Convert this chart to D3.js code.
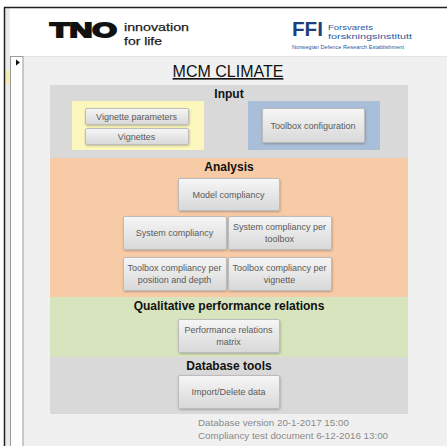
<!DOCTYPE html>
<html>
<head>
<meta charset="utf-8">
<script src="https://cdn.jsdelivr.net/npm/d3@7"></script>
<style>
  body { margin: 0; background: #fff; }
  svg { display: block; font-family: "Liberation Sans", Arial, sans-serif; }
</style>
</head>
<body>
<svg id="form"></svg>
<script>
// form content
const title = "MCM CLIMATE";
const tnoTagline = ["innovation", "for life"];
const ffiName = ["Forsvarets", "forskningsinstitutt"];
const ffiEnglish = "Norwegian Defence Research Establishment";
const sectionNames = ["Input", "Analysis", "Qualitative performance relations", "Database tools"];
const inputButtons = ["Vignette parameters", "Vignettes"];
const configButtons = ["Toolbox configuration"];
const analysisButtons = [
  ["Model compliancy"],
  ["System compliancy"], ["System compliancy per", "toolbox"],
  ["Toolbox compliancy per", "position and depth"], ["Toolbox compliancy per", "vignette"]
];
const relationButtons = [["Performance relations", "matrix"]];
const dbButtons = [["Import/Delete data"]];
const footerLines = ["Database version 20-1-2017 15:00", "Compliancy test document 6-12-2016 13:00"];

const W = 447, H = 446;
const svg = d3.select("#form").attr("width", W).attr("height", H);

const defs = svg.append("defs");
const grad = defs.append("linearGradient").attr("id", "btn").attr("x1", 0).attr("y1", 0).attr("x2", 0).attr("y2", 1);
grad.append("stop").attr("offset", "0%").attr("stop-color", "#f6f6f6");
grad.append("stop").attr("offset", "100%").attr("stop-color", "#d8d8d8");
const shadow = defs.append("filter").attr("id", "shadow").attr("x", "-10%").attr("y", "-10%").attr("width", "130%").attr("height", "140%");
shadow.append("feDropShadow").attr("dx", 0.5).attr("dy", 1).attr("stdDeviation", 0.8).attr("flood-color", "#000").attr("flood-opacity", 0.25);

// window frame
svg.append("rect").attr("x", 4).attr("y", 7).attr("width", W - 4).attr("height", H - 7).attr("fill", "#fff");
svg.append("rect").attr("x", 5).attr("y", 8).attr("width", 5).attr("height", H - 8).attr("fill", "#ebebeb");
svg.append("rect").attr("x", 5).attr("y", 70).attr("width", 4).attr("height", 14).attr("fill", "#f3eeb0");
svg.append("line").attr("x1", 4).attr("x2", W).attr("y1", 7.5).attr("y2", 7.5).attr("stroke", "#222").attr("stroke-width", 1.5);
svg.append("line").attr("x1", 4.5).attr("x2", 4.5).attr("y1", 7).attr("y2", H).attr("stroke", "#222").attr("stroke-width", 1.5);

// body
svg.append("rect").attr("x", 23).attr("y", 56).attr("width", W - 23).attr("height", H - 56).attr("fill", "#f0f0f0");
svg.append("line").attr("x1", 10).attr("x2", W).attr("y1", 56.5).attr("y2", 56.5).attr("stroke", "#e4e4e4");
// record selector
svg.append("rect").attr("x", 10.5).attr("y", 56.5).attr("width", 12.5).attr("height", H).attr("fill", "#fff").attr("stroke", "#9a9a9a").attr("stroke-width", 1);
svg.append("path").attr("d", "M16,59.5 L20,62.5 L16,65.5 Z").attr("fill", "#111");

// logos
const tno = svg.append("g");
tno.append("text").attr("x", 50).attr("y", 37).attr("font-size", 21).attr("font-weight", 900)
  .attr("textLength", 67).attr("lengthAdjust", "spacingAndGlyphs")
  .attr("stroke", "#111").attr("stroke-width", 1.8).attr("fill", "#111").text("TNO");
const tagW = [65, 38];
tnoTagline.forEach((t, i) => {
  tno.append("text").attr("x", 124).attr("y", 31 + i * 13.6).attr("font-size", 11.8).attr("fill", "#1a1a1a")
    .attr("stroke", "#1a1a1a").attr("stroke-width", 0.25)
    .attr("textLength", tagW[i]).attr("lengthAdjust", "spacingAndGlyphs").text(t);
});

const ffi = svg.append("g");
ffi.append("text").attr("x", 292).attr("y", 36).attr("font-size", 20).attr("font-weight", "bold")
  .attr("fill", "#1d3f7e").attr("textLength", 31).attr("lengthAdjust", "spacingAndGlyphs").text("FFI");
const ffiW = [45, 84];
ffiName.forEach((t, i) => {
  ffi.append("text").attr("x", 328).attr("y", 29.5 + i * 9.4).attr("font-size", 8.1).attr("fill", "#2c5aa0")
    .attr("textLength", ffiW[i]).attr("lengthAdjust", "spacingAndGlyphs").text(t);
});
ffi.append("text").attr("x", 292).attr("y", 48.5).attr("font-size", 4.8).attr("fill", "#2c5aa0")
  .attr("textLength", 112).attr("lengthAdjust", "spacingAndGlyphs").text(ffiEnglish);

// title
svg.append("text").attr("x", 228).attr("y", 77).attr("text-anchor", "middle").attr("font-size", 16)
  .attr("fill", "#111").attr("text-decoration", "underline").text(title);

// sections
const X0 = 50, X1 = 408;
const sectionTops = [85, 158, 297, 357, 414];
const sectionFill = ["#d9d9d9", "#f8cba7", "#d7e4bd", "#d9d9d9"];
sectionNames.forEach((name, i) => {
  svg.append("rect").attr("x", X0).attr("y", sectionTops[i]).attr("width", X1 - X0)
    .attr("height", sectionTops[i + 1] - sectionTops[i]).attr("fill", sectionFill[i]);
  svg.append("text").attr("x", 229).attr("y", sectionTops[i] + 12.5).attr("text-anchor", "middle")
    .attr("font-size", 12).attr("font-weight", "bold").attr("fill", "#111").text(name);
});

// input sub panels
svg.append("rect").attr("x", 72).attr("y", 101).attr("width", 132).attr("height", 49).attr("fill", "#fcf8bd");
svg.append("rect").attr("x", 248).attr("y", 101).attr("width", 132).attr("height", 49).attr("fill", "#a9bed9");

function button(x, y, w, h, lines) {
  const g = svg.append("g");
  g.append("rect").attr("x", x + 0.5).attr("y", y + 0.5).attr("width", w).attr("height", h).attr("rx", 1.5)
    .attr("fill", "url(#btn)").attr("stroke", "#bcbcbc").attr("filter", "url(#shadow)");
  const cy = y + h / 2 + 3.5 - (lines.length - 1) * 6;
  g.append("text").attr("font-size", 9).attr("fill", "#5a5a5a").attr("text-anchor", "middle")
    .selectAll("tspan").data(lines).join("tspan")
    .attr("x", x + w / 2).attr("y", (d, i) => cy + i * 12).text(d => d);
}

button(85, 108, 103, 16, [inputButtons[0]]);
button(85, 128, 103, 16, [inputButtons[1]]);
button(262, 108, 102, 34, configButtons);

const cols = d3.scaleBand().domain([0, 1]).range([123, 331]).paddingInner(0.02);
button(178, 178, 101, 32, analysisButtons[0]);
[1, 2, 3, 4].forEach(k => {
  const row = Math.floor((k - 1) / 2), col = (k - 1) % 2;
  button(cols(col), 216 + row * 41, cols.bandwidth(), 33, analysisButtons[k]);
});
button(178, 319, 101, 33, relationButtons[0]);
button(178, 375, 101, 33, dbButtons[0]);

svg.append("text").attr("font-size", 9.8).attr("fill", "#8a8a8a")
  .selectAll("tspan").data(footerLines).join("tspan")
  .attr("x", 198).attr("y", (d, i) => 426 + i * 12.5).text(d => d);
</script>
</body>
</html>
